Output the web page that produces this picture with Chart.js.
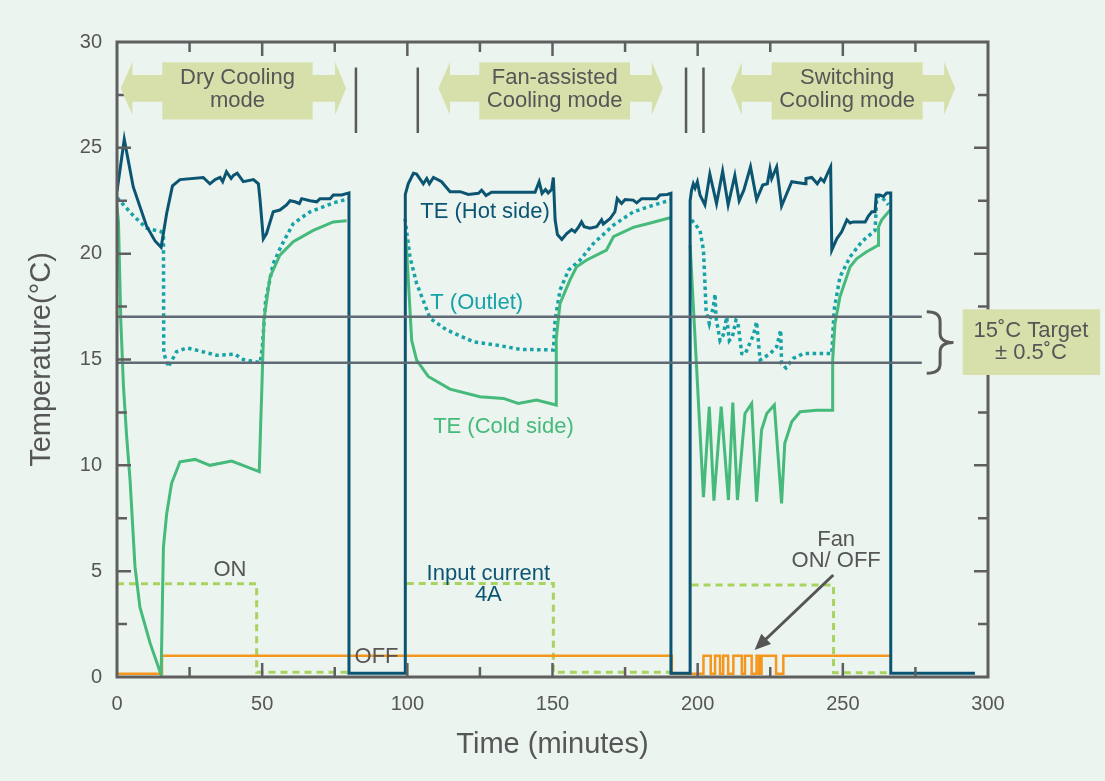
<!DOCTYPE html>
<html>
<head>
<meta charset="utf-8">
<title>TE cooling modes</title>
<script src="https://cdn.jsdelivr.net/npm/chart.js@4.4.1/dist/chart.umd.min.js"></script>
<style>
  html, body { margin: 0; padding: 0; background: #ebf4ee; }
  canvas { display: block; }
</style>
</head>
<body>
<canvas id="chart" width="1105" height="781"></canvas>
<script>
// tick labels
const xTicks = [0, 50, 100, 150, 200, 250, 300];
const yTicks = [0, 5, 10, 15, 20, 25, 30];

// TE hot side (minutes, deg C)
const hotTime = [0, 2.5, 5.6, 10.2, 13.1, 15.2, 17.1, 19.1, 21.7, 29.7, 32.0, 33.8, 35.5, 36.4, 37.7, 39.3, 40.1, 41.4, 43.5, 47,
  48.7, 49.3, 50.4, 51.5, 53.8, 56.1, 58.4, 59.6, 61.3, 62.8, 63.6, 66.5, 68.8, 69.9, 73.4, 74.5, 77.4, 79.9, 79.9, 99.3,
  99.3, 100.3, 102.1, 103.2, 105.5, 106.7, 107.6, 109, 111.8, 114.7, 118.2, 121, 124.5, 125.6, 127.1, 129, 131.9, 144, 145.4, 146.4,
  147.6, 148.5, 149.7, 150.3, 150.9, 151.7, 153.2, 154.9, 156.6, 157.7, 158.9, 160, 160.9, 162.9, 165.2, 166.9, 167.5, 169.8, 171.5, 172.3,
  173.8, 175, 177.8, 179, 180.7, 185.9, 187, 189.5, 190.8, 190.8, 197.4, 197.4, 197.9, 198.5, 199.1, 199.9, 200.8, 202.5, 204.2, 206.5,
  208.6, 210.5, 212.8, 214.3, 215.9, 218.2, 220.3, 222.4, 224, 224.9, 225.5, 227.2, 228.9, 232.4, 237, 237.3, 239.3, 241.2, 242.4, 243.5,
  245, 245.8, 246.2, 247.9, 249.6, 251.4, 252.5, 253.6, 257.7, 258.8, 260, 261.1, 261.5, 262.8, 264, 265.1, 266.5, 266.5, 295.5];
const hotTemp = [22.95, 25.4, 23.15, 21.3, 20.6, 20.3, 21.9, 23.2, 23.5, 23.6, 23.3, 23.5, 23.6, 23.4, 23.87, 23.55, 23.7, 23.8, 23.4, 23.5,
  23.3, 22.5, 20.7, 20.95, 21.98, 22.06, 22.3, 22.5, 22.45, 22.37, 22.6, 22.5, 22.45, 22.6, 22.6, 22.77, 22.77, 22.87, 0.18, 0.18,
  22.8, 23.3, 23.8, 23.76, 23.3, 23.55, 23.3, 23.6, 23.4, 22.93, 22.93, 22.8, 22.85, 23.0, 22.75, 22.9, 22.9, 22.9, 23.4, 22.85,
  23.03, 22.87, 23.03, 23.6, 21.6, 20.9, 20.67, 20.95, 21.14, 21.03, 21.24, 21.5, 21.27, 21.2, 21.27, 21.6, 21.4, 21.65, 21.98, 22.6,
  22.37, 22.56, 22.53, 22.4, 22.6, 22.6, 22.77, 22.8, 22.85, 0.18, 0.18, 22.5, 23.0, 23.3, 23.1, 23.4, 22.77, 22.3, 23.76, 22.37,
  23.9, 22.3, 23.7, 22.5, 23.0, 24.1, 22.56, 23.24, 23.3, 24.0, 23.55, 24.1, 22.25, 23.4, 23.3, 23.55, 23.6, 23.3, 23.55, 23.4,
  23.87, 24.1, 20.17, 20.7, 21.03, 21.6, 21.45, 21.5, 21.5, 21.78, 21.98, 21.98, 22.77, 22.77, 22.7, 22.87, 22.87, 0.18, 0.18];

// T outlet
const outletTime = [0, 5.6, 10.2, 15.2, 16.0, 16.1, 17.7, 20.5, 24, 28.6, 34.3, 40.6, 43.5, 49.3, 50.0, 51.2, 53.8, 56.7, 60.7, 66.5,
  74.5, 79.7, 90, 99.2, 100.9, 103.2, 107.8, 113.5, 122.7, 130.8, 138.8, 150.3, 150.9, 152.6, 155.5, 159.5, 164.1, 171, 177.9, 185.9,
  190.5, 194, 197.9, 200.8, 202, 202.5, 202.9, 204, 205.4, 206, 206.3, 207.7, 208.8, 210, 210.9, 212, 213.2, 213.8, 215.2, 216.3,
  219.2, 220.3, 221.5, 225, 227.2, 228.6, 228.9, 230.4, 232.9, 236.4, 246.2, 247, 249, 252.5, 256.5, 261.1, 261.7, 263.3, 265.7];
const outletTemp = [22.65, 21.8, 21.2, 21.04, 20.9, 15.3, 14.65, 15.37, 15.55, 15.4, 15.2, 15.25, 15.0, 14.85, 15.5, 17.8, 19.53, 20.4, 21.42, 21.98,
  22.4, 22.58, null, 21.65, 19.85, 18.6, 16.95, 16.4, 15.84, 15.68, 15.48, 15.45, 16.86, 18.28, 19.22, 19.7, 20.48, 21.35, 21.98, 22.34,
  22.53, null, 21.6, 21.1, 20.17, 18.6, 17.34, 16.7, 17.5, 18.1, 17.0, 15.9, 16.15, 17.0, 15.9, 16.1, 16.86, 16.8, 15.28, 15.25,
  16.15, 16.78, 14.97, 15.28, 15.6, 16.39, 14.8, 14.6, 15.05, 15.28, 15.28, 17.34, 18.9, 19.85, 20.56, 21.1, 22.7, 22.7, 22.3];

// TE cold side
const coldTime = [0, 0.5, 1.3, 2.2, 3.3, 4.5, 6.2, 7.9, 11.4, 15.2, 15.7, 16, 17.1, 18.8, 21.7, 26.9, 32, 39.5, 49, 49.5,
  49.8, 50.6, 52.7, 56.1, 60.7, 67.6, 74.5, 79.1, 90, 99.5, 101.5, 103.2, 107.2, 114.7, 125, 133.1, 138.2, 144.5, 151.3, 151.3,
  152.6, 156, 158.3, 161.8, 168.6, 171, 177.8, 182.4, 190.5, 194, 197.4, 202, 204, 205.6, 208.1, 210.6, 212.1, 213.7, 216.3, 218.6,
  220.3, 222, 223.8, 226.4, 228.9, 230, 232.4, 235.3, 241, 246.4, 246.5, 247.3, 249, 252.5, 254.8, 258.2, 262.2, 262.3, 263.4, 266.3];
const coldTemp = [22.2, 21.5, 16.9, 13.8, 11.4, 9.3, 5.2, 3.3, 1.6, 0.1, 4.0, 6.15, 7.7, 9.15, 10.17, 10.28, 10.0, 10.2, 9.7, 12.0,
  13.24, 16.86, 18.9, 19.93, 20.56, 21.1, 21.5, 21.55, null, 20.8, 15.9, 14.97, 14.2, 13.6, 13.24, 13.16, 12.92, 13.08, 12.85, 16.0,
  17.65, 18.75, 19.38, 19.7, 20.17, 20.8, 21.24, 21.4, 21.7, null, 20.4, 8.5, 12.77, 8.33, 12.77, 8.36, 12.96, 8.36, 12.45, 12.92,
  8.28, 11.67, 12.45, 12.85, 8.2, 11.04, 12.06, 12.53, 12.6, 12.6, 14.97, 16.7, 17.96, 19.38, 19.77, 20.09, 20.4, 21.27, 21.6, 22.06];

// input current (on/off level)
const currentTime = [0, 48.1, 48.1, 79.8, 90, 99.8, 150.3, 150.3, 191, 194, 197.9, 246.8, 246.8, 266.3];
const currentLevel = [4.4, 4.4, 0.22, 0.22, null, 4.42, 4.42, 0.22, 0.22, null, 4.35, 4.35, 0.2, 0.2];

// fan on/off (level held until the next time)
const fanTime = [0, 15.5, 191.1, 202.0, 204.5, 206.0, 207.7, 208.8, 210.5, 212.3, 215.2, 216.3, 218.6, 220.3, 221.2, 222.0, 227.0, 229.5, 266.3];
const fanLevel = [0.15, 1.0, 0.15, 1.0, 0.15, 1.0, 0.15, 1.0, 0.15, 1.0, 0.15, 1.0, 0.15, 1.0, 0.15, 1.0, 0.15, 1.0, 1.0];

const TEXT = '#565656';
const FONT = '"Liberation Sans", Arial, sans-serif';
const OLIVE = '#d7e0ab';

const pts = (xs, ys) => xs.map((x, i) => ({ x: x, y: ys[i] }));

// mode arrows: [left tip, left head base, box left, box right, right head base, right tip, line1, line2]
const modes = [
  [1.3, 5.3, 15.6, 67.4, 75.1, 78.9, 'Dry Cooling', 'mode'],
  [110.7, 114.7, 124.8, 176.7, 184.2, 188, 'Fan-assisted', 'Cooling mode'],
  [211.5, 215.2, 225.5, 277.5, 284.9, 288.7, 'Switching', 'Cooling mode']
];
const separators = [82.3, 103.6, 196.0, 202.0];
const targetLines = [17.02, 14.85];

const overlay = {
  id: 'overlay',
  afterDatasetsDraw(chart) {
    const { ctx, chartArea: a, scales: { x, y } } = chart;
    const X = v => x.getPixelForValue(v);
    const Y = v => y.getPixelForValue(v);
    ctx.save();

    // target band lines
    ctx.strokeStyle = '#606a74';
    ctx.lineWidth = 2.5;
    targetLines.forEach(v => {
      ctx.beginPath();
      ctx.moveTo(X(0), Y(v));
      ctx.lineTo(X(277.2), Y(v));
      ctx.stroke();
    });

    // frame and inward ticks
    ctx.strokeStyle = '#5f5f5f';
    ctx.lineWidth = 3;
    ctx.strokeRect(a.left, a.top, a.right - a.left, a.bottom - a.top);
    ctx.lineWidth = 2.5;
    ctx.beginPath();
    for (let t = 25; t < 300; t += 25) {
      const len = t % 50 === 0 ? 14 : 10;
      ctx.moveTo(X(t), a.bottom); ctx.lineTo(X(t), a.bottom - len);
      ctx.moveTo(X(t), a.top); ctx.lineTo(X(t), a.top + len);
    }
    for (let v = 2.5; v < 30; v += 2.5) {
      const len = v % 5 === 0 ? 14 : 10;
      ctx.moveTo(a.left, Y(v)); ctx.lineTo(a.left + len, Y(v));
      ctx.moveTo(a.right, Y(v)); ctx.lineTo(a.right - len, Y(v));
    }
    ctx.stroke();

    // mode arrows
    modes.forEach(m => {
      const [tl, bl, xl, xr, br, tr, l1, l2] = m;
      ctx.fillStyle = OLIVE;
      ctx.beginPath();
      ctx.moveTo(X(tl), Y(27.81));
      ctx.lineTo(X(bl), Y(29.06));
      ctx.lineTo(X(bl), Y(28.44));
      ctx.lineTo(X(br), Y(28.44));
      ctx.lineTo(X(br), Y(29.06));
      ctx.lineTo(X(tr), Y(27.81));
      ctx.lineTo(X(br), Y(26.55));
      ctx.lineTo(X(br), Y(27.18));
      ctx.lineTo(X(bl), Y(27.18));
      ctx.lineTo(X(bl), Y(26.55));
      ctx.closePath();
      ctx.fill();
      ctx.fillRect(X(xl), Y(29.04), X(xr) - X(xl), Y(26.34) - Y(29.04));
      ctx.fillStyle = TEXT;
      ctx.font = '22px ' + FONT;
      ctx.textAlign = 'center';
      ctx.textBaseline = 'middle';
      const cx = (X(xl) + X(xr)) / 2;
      ctx.fillText(l1, cx, Y(28.3));
      ctx.fillText(l2, cx, Y(27.2));
    });

    // separators
    ctx.strokeStyle = '#5a5a5a';
    ctx.lineWidth = 2.5;
    ctx.beginPath();
    separators.forEach(t => {
      ctx.moveTo(X(t), Y(28.8));
      ctx.lineTo(X(t), Y(25.7));
    });
    ctx.stroke();

    // bracket
    ctx.strokeStyle = '#5a5a5a';
    ctx.lineWidth = 3;
    ctx.beginPath();
    ctx.moveTo(X(278.9), Y(17.26));
    ctx.quadraticCurveTo(X(283.5), Y(17.26), X(283.5), Y(16.8));
    ctx.lineTo(X(283.5), Y(16.25));
    ctx.quadraticCurveTo(X(283.5), Y(15.8), X(288.1), Y(15.8));
    ctx.quadraticCurveTo(X(283.5), Y(15.8), X(283.5), Y(15.35));
    ctx.lineTo(X(283.5), Y(14.8));
    ctx.quadraticCurveTo(X(283.5), Y(14.35), X(278.9), Y(14.35));
    ctx.stroke();

    // target box
    ctx.fillStyle = OLIVE;
    ctx.fillRect(X(291.3), Y(17.37), X(338.6) - X(291.3), Y(14.27) - Y(17.37));
    ctx.fillStyle = TEXT;
    ctx.fillText('15˚C Target', X(314.8), Y(16.35));
    ctx.fillText('± 0.5˚C', X(314.8), Y(15.31));

    // series labels
    const label = (txt, t, v, color) => {
      ctx.fillStyle = color;
      ctx.fillText(txt, X(t), Y(v));
    };
    label('TE (Hot side)', 126.75, 21.98, '#0c5572');
    label('T (Outlet)', 123.9, 17.65, '#17a2a7');
    label('TE (Cold side)', 133.1, 11.82, '#46ba7b');
    label('Input current', 127.9, 4.89, '#0c5572');
    label('4A', 127.9, 3.87, '#0c5572');
    label('ON', 38.9, 5.05, TEXT);
    label('OFF', 89.4, 0.94, TEXT);
    label('Fan', 247.7, 6.49, TEXT);
    label('ON/ OFF', 247.7, 5.47, TEXT);

    // fan arrow
    const x0 = X(246.7), y0 = Y(4.82), x1 = X(219.6), y1 = Y(1.28);
    const ang = Math.atan2(y1 - y0, x1 - x0);
    ctx.strokeStyle = '#555555';
    ctx.fillStyle = '#555555';
    ctx.lineWidth = 3;
    ctx.beginPath();
    ctx.moveTo(x0, y0);
    ctx.lineTo(x1 - 10 * Math.cos(ang), y1 - 10 * Math.sin(ang));
    ctx.stroke();
    ctx.beginPath();
    ctx.moveTo(x1, y1);
    ctx.lineTo(x1 - 16 * Math.cos(ang) + 7 * Math.sin(ang), y1 - 16 * Math.sin(ang) - 7 * Math.cos(ang));
    ctx.lineTo(x1 - 16 * Math.cos(ang) - 7 * Math.sin(ang), y1 - 16 * Math.sin(ang) + 7 * Math.cos(ang));
    ctx.closePath();
    ctx.fill();

    ctx.restore();
  }
};

const line = (data, color, width, extra) => Object.assign({
  data: data,
  borderColor: color,
  borderWidth: width,
  pointRadius: 0,
  tension: 0,
  fill: false,
  spanGaps: false
}, extra);

new Chart(document.getElementById('chart'), {
  type: 'line',
  data: {
    datasets: [
      line(pts(hotTime, hotTemp), '#0c5572', 3, { label: 'TE (Hot side)', order: 1 }),
      line(pts(coldTime, coldTemp), '#46ba7b', 3, { label: 'TE (Cold side)', order: 2 }),
      line(pts(outletTime, outletTemp), '#17a2a7', 3.5, { label: 'T (Outlet)', order: 3, borderDash: [3.5, 3.5] }),
      line(pts(fanTime, fanLevel), '#f5961d', 2.5, { label: 'Fan', order: 4, stepped: 'before' }),
      line(pts(currentTime, currentLevel), '#a9d35f', 3, { label: 'Input current', order: 5, borderDash: [7, 5] })
    ]
  },
  options: {
    responsive: false,
    animation: false,
    events: [],
    layout: { padding: { top: 42, right: 117, left: 0, bottom: 0 } },
    plugins: { legend: { display: false }, tooltip: { enabled: false } },
    scales: {
      x: {
        type: 'linear',
        min: 0,
        max: 300,
        afterFit: s => { s.height = 104; },
        afterBuildTicks: s => { s.ticks = xTicks.map(v => ({ value: v })); },
        grid: { display: false, drawTicks: false },
        border: { display: false },
        ticks: { color: TEXT, font: { family: FONT, size: 20 }, padding: 15, maxRotation: 0 },
        title: { display: true, text: 'Time (minutes)', color: TEXT, font: { family: FONT, size: 29 }, padding: { top: 0, bottom: 19 } }
      },
      y: {
        type: 'linear',
        min: 0,
        max: 30,
        afterFit: s => { s.width = 117; },
        afterBuildTicks: s => { s.ticks = yTicks.map(v => ({ value: v })); },
        grid: { display: false, drawTicks: false },
        border: { display: false },
        ticks: { color: TEXT, font: { family: FONT, size: 20 }, padding: 15 },
        title: { display: true, text: 'Temperature(°C)', color: TEXT, font: { family: FONT, size: 29 }, padding: { top: 25, bottom: 0 } }
      }
    }
  },
  plugins: [overlay]
});
</script>
</body>
</html>
